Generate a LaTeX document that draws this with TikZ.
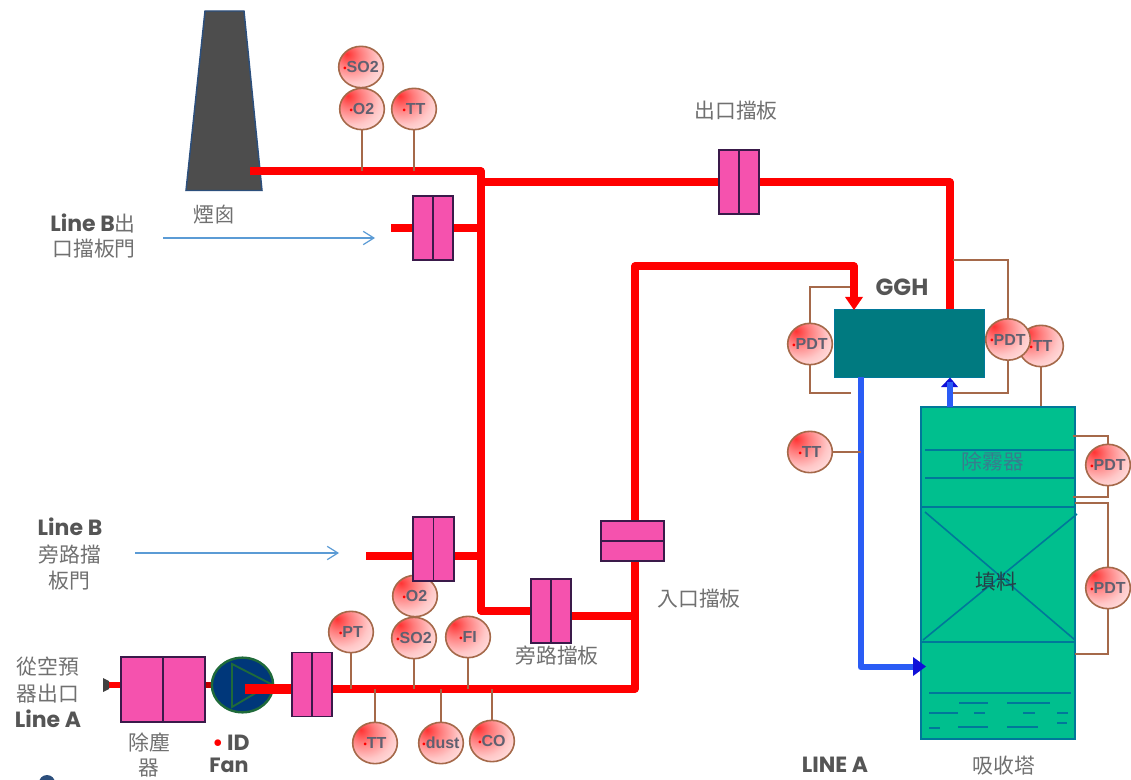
\documentclass[tikz,border=0pt]{standalone}
\usepackage{fontspec}
\setmainfont{Poppins}
\newfontfamily\cjk{Noto Sans CJK TC}
\newfontfamily\instfont{Liberation Sans}
\usetikzlibrary{shapes.geometric,arrows.meta,calc}
\definecolor{pipered}{HTML}{FF0000}
\definecolor{pipeblue}{HTML}{2A5CF5}
\definecolor{headblue}{HTML}{1010D8}
\definecolor{stem}{HTML}{A5694A}
\definecolor{damperfill}{HTML}{F552AE}
\definecolor{damperline}{HTML}{3A1A4A}
\definecolor{towerfill}{HTML}{00BF8E}
\definecolor{towerline}{HTML}{00789A}
\definecolor{gghfill}{HTML}{007A80}
\definecolor{labelgray}{HTML}{707070}
\definecolor{boldgray}{HTML}{555555}
\definecolor{inktext}{HTML}{606070}
\definecolor{thinblue}{HTML}{5B9BD5}
\definecolor{stackfill}{HTML}{4D4D4D}
\definecolor{stackedge}{HTML}{2C4F7C}
\definecolor{fanfill}{HTML}{00377A}
\definecolor{fanring}{HTML}{1F6A3A}
\pgfdeclareradialshading{instshade}{\pgfpoint{-16bp}{16bp}}{
  color(0bp)=(red!80!white);
  color(13bp)=(red!52!white);
  color(30bp)=(red!22!white);
  color(50bp)=(red!4!white);
  color(100bp)=(white)}
\tikzset{
  x=0.75pt,y=-0.75pt,
  pipe/.style={draw=pipered,line width=5.3pt,line join=round},
  coldpipe/.style={draw=pipeblue,line width=5pt,line join=round},
  stemline/.style={draw=stem,line width=1.4pt},
  damper/.style={rectangle,draw=damperline,line width=1.3pt,fill=damperfill,inner sep=0pt},
  dividerline/.style={draw=damperline,line width=1.3pt},
  inst/.style={ellipse,draw=stem,line width=1.2pt,inner sep=-6pt,minimum width=33.5pt,minimum height=31pt,
    shade,shading=instshade,
    text=inktext,font=\instfont\bfseries\fontsize{12}{12}\selectfont},
  cjklabel/.style={text=labelgray,font=\cjk\fontsize{15.6}{19.5}\selectfont,align=center,inner sep=0pt},
  boldlabel/.style={text=boldgray,font=\bfseries\fontsize{16.5}{19}\selectfont,align=center,inner sep=0pt},
  thinarrow/.style={draw=thinblue,line width=0.9pt,-{Straight Barb[length=8pt,width=10pt]}},
  towerstroke/.style={draw=towerline,line width=1.2pt},
}
\newcommand{\rd}{\textcolor{red}{\raisebox{1pt}{\fontsize{7}{7}\selectfont\textbullet}}}
\begin{document}
\begin{tikzpicture}
\useasboundingbox (0,0) rectangle (1131,780);
\clip (0,0) rectangle (1131,780);
% stack
\fill[fill=stackfill,draw=stackedge,line width=1.1pt,line join=miter] (205,11) -- (244,11) -- (262,190.5) -- (186,190.5) -- cycle;
% pipe way-points
\coordinate (a1) at (250,171);
\coordinate (a2) at (481,171);
\coordinate (a3) at (481,611);
\coordinate (b0) at (481,182);
\coordinate (b1) at (950,182);
\coordinate (b2) at (950,309);
\coordinate (c0) at (391,228);
\coordinate (c1) at (481,228);
\coordinate (d0) at (366,556);
\coordinate (d1) at (481,556);
\coordinate (e0) at (571,616);
\coordinate (e1) at (635,616);
\coordinate (f0) at (245,689);
\coordinate (f1) at (292,689);
\coordinate (f2) at (635,689);
\coordinate (f3) at (635,266);
\coordinate (f4) at (854,266);
\coordinate (g0) at (103,685);
\coordinate (g1) at (211,685);
\coordinate (h0) at (861,377);
\coordinate (h1) at (861,667);
\coordinate (h2) at (915,667);
\coordinate (i0) at (950,407);
\coordinate (i1) at (950,382);
% vessels
\node[rectangle,draw=towerline,line width=0.6pt,fill=gghfill,minimum width=113pt,minimum height=51pt,inner sep=0pt] (ggh) at (909.5,343) {};
\node[rectangle,draw=towerline,line width=1.2pt,fill=towerfill,minimum width=115.5pt,minimum height=249pt,inner sep=0pt] (tower) at (998,573) {};
% pipes
\draw[pipe] (a1) -- (a2) -- (a3) -- (531,611);
\draw[pipe] (b0) -- (b1) -- (b2);
\draw[pipe] (c0) -- (c1);
\draw[pipe] (d0) -- (d1);
\draw[pipe] (e0) -- (e1);
\draw[pipe] (f1) -- (f2) -- (f3) -- (f4) -- (854,298);
\fill[pipered] (845,297) -- (863,297) -- (854,310) -- cycle;
\draw[draw=pipered!75!black,line width=4.5pt] (205,685) -- (g1);
\draw[draw=pipered,line width=4.5pt] (g0) -- (121,685);
\fill[black!75] (103,678) -- (109,681) -- (109,689) -- (103,692) -- cycle;
% blue pipes
\draw[coldpipe] (h0) -- (h1) -- (h2);
\fill[headblue] (913,657) -- (926,666.5) -- (913,676) -- cycle;
\fill[headblue] (941,387) -- (950,377.5) -- (958,387) -- cycle;
\draw[coldpipe] (i0) -- (i1);
% fan
\node[ellipse,draw=fanring,line width=1.8pt,fill=fanfill,minimum width=46pt,minimum height=41pt,inner sep=0pt] (fan) at (242.5,685) {};
\draw[draw=fanring,line width=1.4pt] (232,664) -- (271,684) -- (232,707) -- cycle;
\draw[draw=pipered,line width=7pt] (f0) -- (f1);
% instruments
\node[inst] (so2a) at (361,67) {\rd SO2};
\node[inst] (o2a) at (362,109) {\rd O2};
\node[inst] (tta) at (414,109) {\rd TT};
\node[inst] (pt) at (351,632) {\rd PT};
\node[inst] (o2b) at (415,596) {\rd O2};
\node[inst] (so2b) at (414,638) {\rd SO2};
\node[inst] (fi) at (468,637) {\rd FI};
\node[inst] (ttb) at (375,743) {\rd TT};
\node[inst] (dust) at (441,743) {\rd dust};
\node[inst] (co) at (492,741) {\rd CO};
\node[inst] (ttc) at (1041,346) {\rd TT};
\node[inst] (pdta) at (810,344) {\rd PDT};
\node[inst] (pdtb) at (1008,339.5) {\rd PDT};
\node[inst] (ttd) at (810,452) {\rd TT};
\node[inst] (pdtc) at (1108,465) {\rd PDT};
\node[inst] (pdtd) at (1108,588) {\rd PDT};
% stems
\draw[stemline] (o2a.south) -- (o2a.south |- a1);
\draw[stemline] (tta.south) -- (tta.south |- a1);
\draw[stemline] (pt.south) -- (pt.south |- f2);
\draw[stemline] (so2b.south) -- (so2b.south |- f2);
\draw[stemline] (fi.south) -- (fi.south |- f2);
\draw[stemline] (ttb.north) -- (ttb.north |- f2);
\draw[stemline] (dust.north) -- (dust.north |- f2);
\draw[stemline] (co.north) -- (co.north |- f2);
\draw[stemline] (ttc.south) -- (ttc.south |- tower.north);
\draw[stemline] (ttd.east) -- (ttd.east -| h0);
\draw[stemline] (pdta.north) -- (810,287) -- (850,287);
\draw[stemline] (pdta.south) -- (810,393) -- (851,393);
\draw[stemline] (pdtb.north) -- (1008,260) -- (953,260);
\draw[stemline] (pdtb.south) -- (1008,393) -- (953,393);
\draw[stemline] (pdtc.north) -- (1108,436) -- (1073,436);
\draw[stemline] (pdtc.south) -- (1108,497) -- (1073,497);
\draw[stemline] (pdtd.north) -- (1108,503) -- (1075,503);
\draw[stemline] (pdtd.south) -- (1108,654) -- (1075,654);
% dampers
\node[damper,minimum width=30pt,minimum height=48pt] (d1box) at (739,182) {};
\draw[dividerline] (d1box.north) -- (d1box.south);
\node[damper,minimum width=30pt,minimum height=48pt] (d2box) at (433,228) {};
\draw[dividerline] (d2box.north) -- (d2box.south);
\node[damper,minimum width=30.5pt,minimum height=48pt] (d3box) at (433.5,549) {};
\draw[dividerline] (d3box.north) -- (d3box.south);
\node[damper,minimum width=30pt,minimum height=48pt] (d4box) at (551,611) {};
\draw[dividerline] (d4box.north) -- (d4box.south);
\node[damper,minimum width=47pt,minimum height=30pt] (d5box) at (632.5,541) {};
\draw[dividerline] (d5box.west) -- (d5box.east);
\node[damper,minimum width=30pt,minimum height=48pt] (d6box) at (312,684.5) {};
\draw[dividerline] (d6box.north) -- (d6box.south);
\node[damper,minimum width=63pt,minimum height=48.5pt] (dc) at (163,689.5) {};
\draw[dividerline] (dc.north) -- (dc.south);
% tower interior
\draw[towerstroke] (925,450) -- (1075,450);
\draw[towerstroke] (925,478) -- (1075,478);
\draw[towerstroke] (921,507) -- (1075,507);
\draw[towerstroke] (921,642) -- (1075,642);
\draw[towerstroke] (925,512) -- (1075,640);
\draw[towerstroke] (923,640) -- (1077,514);
\draw[towerstroke] (929,693) -- (1071,693);
\foreach \xa/\xb/\yy in {959/988/703,1007/1050/703,929/958/713,974/985/713,1023/1035/713,1057/1068/713,1057/1067/723,929/940/728,958/988/727,1007/1038/727}
  \draw[towerstroke] (\xa,\yy) -- (\xb,\yy);
% thin arrows
\coordinate (ta0) at (163,238); \coordinate (ta1) at (375,238);
\coordinate (tb0) at (135,553); \coordinate (tb1) at (339,553);
\draw[thinarrow] (ta0) -- (ta1);
\draw[thinarrow] (tb0) -- (tb1);
% partial circle cut by lower edge
\fill[stackedge] (47,783) circle (8);
% labels
\node[cjklabel] (chimney) at (214,215) {煙囪};
\node[cjklabel] (outlabel) at (736,111) {出口擋板};
\node[boldlabel,font=\bfseries\fontsize{17.5}{19}\selectfont] (gghlabel) at (902,287) {GGH};
\node[boldlabel,anchor=east] (lb1) at (136,224) {Line B{\cjk\mdseries\fontsize{15.6}{19}\selectfont\color{labelgray}出}};
\node[cjklabel,anchor=east] (lb2) at (136,249) {口擋板門};
\node[boldlabel] (lb3) at (70,527) {Line B};
\node[cjklabel] (lb4) at (70,555) {旁路擋};
\node[cjklabel] (lb5) at (69,581) {板門};
\node[cjklabel] (inlabel) at (699,599) {入口擋板};
\node[cjklabel] (bypasslabel) at (557,656) {旁路擋板};
\node[cjklabel] (la1) at (48,667) {從空預};
\node[cjklabel] (la2) at (48,694) {器出口};
\node[boldlabel] (la3) at (48,719) {Line A};
\node[cjklabel] (dc1) at (149,743) {除塵};
\node[cjklabel] (dc2) at (149,768) {器};
\node[boldlabel] (id) at (231,743) {\textcolor{red}{\textbullet}\,ID};
\node[boldlabel,font=\bfseries\fontsize{15.5}{19}\selectfont] (fanl) at (229,765) {Fan};
\node[boldlabel] (linea) at (835,765) {LINE A};
\node[cjklabel] (absorb) at (1004,766) {吸收塔};
\node[cjklabel,text=towerline!55!gray] (mist) at (993,462) {除霧器};
\node[cjklabel,text=towerline!30!black!70!gray] (fillabel) at (996,582) {填料};
\end{tikzpicture}
\end{document}
